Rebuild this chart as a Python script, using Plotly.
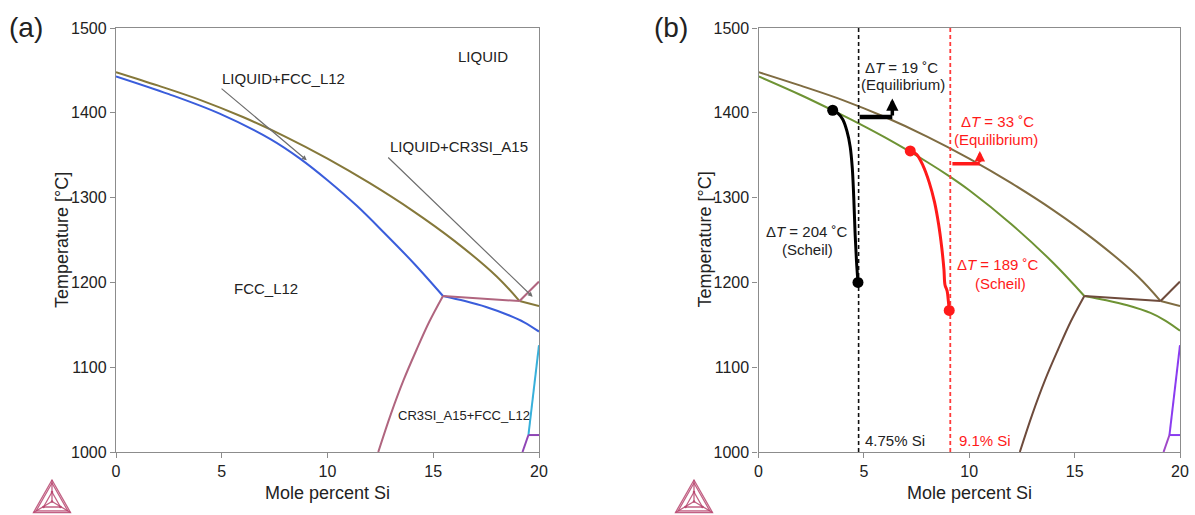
import plotly.graph_objects as go

# ---------------- data ----------------
# liquidus (same in both panels)
liq_x = [0, 2, 4, 6, 8, 10, 12, 14, 16, 18, 19.08]
liq_T = [1448, 1432, 1415, 1395, 1372, 1346, 1317, 1285, 1249, 1207, 1178]
liq2_x = [19.08, 20]
liq2_T = [1178, 1172]

# solidus FCC_L12, panel (a)
sol_a_x = [0, 2.5, 4.9, 7.3, 8.7, 10, 11.4, 12.7, 14.1, 15.46]
sol_a_T = [1443, 1422, 1399, 1369, 1346, 1320.5, 1290, 1258, 1222, 1184]
# solidus FCC_L12, panel (b)
sol_b_x = [0, 2, 4, 4.75, 6, 8, 9.1, 10, 12, 14, 15.46]
sol_b_T = [1443, 1421, 1397, 1387.6, 1371, 1342, 1324.4, 1308.6, 1268.6, 1222.6, 1184]

# FCC + A15 liquidus branch after the kink
fcc2_a_x = [15.46, 16.5, 17.5, 18.6, 19.3, 20]
fcc2_a_T = [1184, 1178, 1171, 1161, 1153, 1142]
fcc2_b_x = [15.46, 16.5, 17.5, 18.6, 19.3, 20]
fcc2_b_T = [1184, 1179, 1173, 1164, 1155, 1143]

# CR3SI_A15 solvus
a15_x = [12.4, 13.0, 13.6, 14.2, 14.8, 15.46]
a15_T = [1000, 1045, 1085, 1120, 1153, 1184]
tie_x = [15.46, 19.08]
tie_T = [1184, 1178]
a15up_x = [19.08, 20]
a15up_T = [1178, 1201]

# right-edge boundaries
edge_x = [19.5, 20]
edge_T = [1020, 1126]
flat_x = [19.5, 20]
flat_T = [1020, 1020]
low_x = [19.22, 19.5]
low_T = [1000, 1020]

# Scheil curves (panel b)
sch_k_x = [3.52, 3.75, 4.0, 4.2, 4.35, 4.45, 4.52, 4.58, 4.65, 4.72]
sch_k_T = [1403, 1400, 1392, 1378, 1360, 1335, 1300, 1260, 1225, 1200]
sch_r_x = [7.2, 7.5, 7.8, 8.1, 8.35, 8.55, 8.7, 8.8, 8.85, 8.95, 9.0, 9.05]
sch_r_T = [1355, 1351, 1338, 1318, 1295, 1268, 1240, 1215, 1197, 1190, 1180, 1167]

# compositions
comp_k = 4.75
comp_r = 9.1

# step arrows (panel b)
arr_k_x = [4.8, 6.35]
arr_k_T = [1395, 1417]
arr_r_x = [9.2, 10.5]
arr_r_T = [1340, 1355]

x_ticks = [0, 5, 10, 15, 20]
y_ticks = [1000, 1100, 1200, 1300, 1400, 1500]

# ---------------- layout geometry ----------------
W, H = 1195, 515
TOP, BOT = 28, 452
A_L, A_R = 116, 539
B_L, B_R = 758.5, 1180
FONT = "Liberation Sans, Arial, sans-serif"


def px(x):
    return x / W


def py(y):
    return 1 - y / H


fig = go.Figure()

C_LIQ_A = "#85783a"
C_BLUE = "#3a5ddb"
C_PINK = "#b0657f"
C_CYAN = "#38b0da"
C_PURP = "#8f45b5"
C_LIQ_B = "#7f6c42"
C_GREEN = "#6e9334"
C_BROWN = "#6e4b3c"
C_VIOL = "#8a3cf0"
C_VIOL2 = "#a048c8"
RED = "#ff1a1a"


def line(x, y, color, ax, width=2, dash=None, shape="spline"):
    fig.add_trace(go.Scatter(
        x=x, y=y, mode="lines", xaxis="x" + ax, yaxis="y" + ax,
        line=dict(color=color, width=width, dash=dash, shape=shape, smoothing=1.0),
        showlegend=False, hoverinfo="skip"))


# panel (a)
line(liq_x, liq_T, C_LIQ_A, "")
line(liq2_x, liq2_T, C_LIQ_A, "", shape="linear")
line(sol_a_x, sol_a_T, C_BLUE, "")
line(fcc2_a_x, fcc2_a_T, C_BLUE, "")
line(a15_x, a15_T, C_PINK, "")
line(tie_x, tie_T, C_PINK, "", shape="linear")
line(a15up_x, a15up_T, C_PINK, "", shape="linear")
line(edge_x, edge_T, C_CYAN, "", shape="linear")
line(flat_x, flat_T, C_PURP, "", shape="linear")
line(low_x, low_T, C_PURP, "", shape="linear")

# panel (b)
line(liq_x, liq_T, C_LIQ_B, "2")
line(liq2_x, liq2_T, C_LIQ_B, "2", shape="linear")
line(sol_b_x, sol_b_T, C_GREEN, "2")
line(fcc2_b_x, fcc2_b_T, C_GREEN, "2")
line(a15_x, a15_T, C_BROWN, "2")
line(tie_x, tie_T, C_BROWN, "2", shape="linear")
line(a15up_x, a15up_T, C_BROWN, "2", shape="linear")
line(edge_x, edge_T, C_VIOL, "2", shape="linear")
line(flat_x, flat_T, C_VIOL, "2", shape="linear")
line(low_x, low_T, C_VIOL2, "2", shape="linear")

# composition dashed lines
line([comp_k, comp_k], [1000, 1500], "#111111", "2", width=1.6, dash="4px,3px", shape="linear")
line([comp_r, comp_r], [1000, 1500], "#ff3a3a", "2", width=1.8, dash="4px,3px", shape="linear")

# Scheil curves
line(sch_k_x, sch_k_T, "#000000", "2", width=3)
line(sch_r_x, sch_r_T, RED, "2", width=3)
for xs, ts, c in [(sch_k_x, sch_k_T, "#000000"), (sch_r_x, sch_r_T, RED)]:
    fig.add_trace(go.Scatter(
        x=[xs[0], xs[-1]], y=[ts[0], ts[-1]], mode="markers", xaxis="x2", yaxis="y2",
        marker=dict(color=c, size=11), showlegend=False, hoverinfo="skip"))

# step arrows: horizontal part
line(arr_k_x, [arr_k_T[0], arr_k_T[0]], "#000000", "2", width=4.5, shape="linear")
line(arr_r_x, [arr_r_T[0], arr_r_T[0]], RED, "2", width=3.5, shape="linear")

axis_common = dict(
    showline=True, mirror=True, linecolor="#8c8c8c", linewidth=1.3,
    ticks="outside", ticklen=5, tickcolor="#8c8c8c", tickwidth=1.2,
    showgrid=False, zeroline=False, automargin=False,
    tickfont=dict(family=FONT, size=16, color="#222222"),
)

fig.update_layout(
    width=W, height=H,
    margin=dict(l=0, r=0, t=0, b=0),
    paper_bgcolor="white", plot_bgcolor="white",
    font=dict(family=FONT, color="#222222"),
    xaxis=dict(domain=[px(A_L), px(A_R)], range=[0, 20], tickvals=x_ticks, anchor="y", **axis_common),
    yaxis=dict(domain=[py(BOT), py(TOP)], range=[1000, 1500], tickvals=y_ticks, anchor="x", **axis_common),
    xaxis2=dict(domain=[px(B_L), px(B_R)], range=[0, 20], tickvals=x_ticks, anchor="y2", **axis_common),
    yaxis2=dict(domain=[py(BOT), py(TOP)], range=[1000, 1500], tickvals=y_ticks, anchor="x2", **axis_common),
)

ann = []


def txt(text, x, y, ax="", size=15, color="#222222", xanchor="center"):
    ann.append(dict(text=text, x=x, y=y, xref="x" + ax, yref="y" + ax, showarrow=False,
                    xanchor=xanchor, yanchor="middle",
                    font=dict(family=FONT, size=size, color=color)))


# panel (a) labels
txt("LIQUID", 17.35, 1466)
txt("LIQUID+FCC_L12", 4.9, 1441, xanchor="left")
txt("LIQUID+CR3SI_A15", 12.85, 1360, xanchor="left")
txt("FCC_L12", 7.1, 1193)
txt("CR3SI_A15+FCC_L12", 13.25, 1043, size=13, xanchor="left")
# pointer lines
for (x0, y0, x1, y1) in [(4.92, 1430, 9.02, 1344), (12.8, 1349, 19.7, 1183)]:
    ann.append(dict(x=x1, y=y1, ax=x0, ay=y0, xref="x", yref="y", axref="x", ayref="y",
                    showarrow=True, arrowhead=2, arrowsize=0.8, arrowwidth=1.2,
                    arrowcolor="#6e6e6e", text="", standoff=0))

# panel (b) labels
txt("Δ<i>T</i> = 19 ˚C", 6.8, 1453, "2")
txt("(Equilibrium)", 6.86, 1433, "2")
txt("Δ<i>T</i> = 204 ˚C", 2.3, 1260, "2")
txt("(Scheil)", 2.33, 1239, "2")
txt("Δ<i>T</i> = 33 ˚C", 11.35, 1390, "2", color=RED)
txt("(Equilibrium)", 11.27, 1369, "2", color=RED)
txt("Δ<i>T</i> = 189 ˚C", 11.32, 1221, "2", color=RED)
txt("(Scheil)", 11.46, 1199, "2", color=RED)
txt("4.75% Si", 4.97, 1014, "2", xanchor="left")
txt("9.1% Si", 9.4, 1014, "2", color=RED, xanchor="left")

# up arrows of the step markers
ann.append(dict(x=arr_k_x[1], y=arr_k_T[1], ax=arr_k_x[1], ay=arr_k_T[0], xref="x2", yref="y2",
                axref="x2", ayref="y2", showarrow=True, arrowhead=2, arrowsize=0.7,
                arrowwidth=3.5, arrowcolor="#000000", text="", standoff=0))
ann.append(dict(x=arr_r_x[1], y=arr_r_T[1], ax=arr_r_x[1], ay=arr_r_T[0], xref="x2", yref="y2",
                axref="x2", ayref="y2", showarrow=True, arrowhead=2, arrowsize=0.7,
                arrowwidth=3, arrowcolor=RED, text="", standoff=0))

# axis titles and panel letters
for L, R, letter, lx in [(A_L, A_R, "(a)", 26), (B_L, B_R, "(b)", 671)]:
    ann.append(dict(text="Mole percent Si", x=px((L + R) / 2), y=py(493), xref="paper", yref="paper",
                    showarrow=False, xanchor="center", yanchor="middle",
                    font=dict(family=FONT, size=18, color="#222222")))
    ann.append(dict(text="Temperature [°C]", x=px(L - 54), y=py((TOP + BOT) / 2), xref="paper",
                    yref="paper", showarrow=False, textangle=-90, xanchor="center", yanchor="middle",
                    font=dict(family=FONT, size=18, color="#222222")))
    ann.append(dict(text=letter, x=px(lx), y=py(27), xref="paper", yref="paper",
                    showarrow=False, xanchor="center", yanchor="middle",
                    font=dict(family=FONT, size=28, color="#222222")))

fig.update_layout(annotations=ann)

# Thermo-Calc style logo (decoration)
shapes = []
LOGO = "#b8466f"
for cx in [52, 694]:
    apex = (cx, 480)
    bl = (cx - 18.5, 512.5)
    br = (cx + 18.5, 512.5)
    ctr = (cx, 501.5)
    inner = [(cx, 492), (cx - 8.5, 507), (cx + 8.5, 507)]

    def P(p):
        return f"{px(p[0]):.5f},{py(p[1]):.5f}"

    for tri in [[apex, bl, br], [(cx, 483), (cx - 15.8, 510.8), (cx + 15.8, 510.8)], inner]:
        shapes.append(dict(type="path", xref="paper", yref="paper",
                           path=f"M{P(tri[0])} L{P(tri[1])} L{P(tri[2])} Z",
                           line=dict(color=LOGO, width=1.3), opacity=0.85))
    for v in [apex, bl, br]:
        shapes.append(dict(type="path", xref="paper", yref="paper",
                           path=f"M{P(ctr)} L{P(v)}",
                           line=dict(color=LOGO, width=1.3), opacity=0.85))
    for v in inner + [ctr]:
        shapes.append(dict(type="circle", xref="paper", yref="paper",
                           x0=px(v[0] - 1.3), x1=px(v[0] + 1.3), y0=py(v[1] + 1.3), y1=py(v[1] - 1.3),
                           fillcolor=LOGO, line=dict(width=0), opacity=0.9))
fig.update_layout(shapes=shapes)

fig.write_html("out.html", config={"displayModeBar": False, "responsive": False})
